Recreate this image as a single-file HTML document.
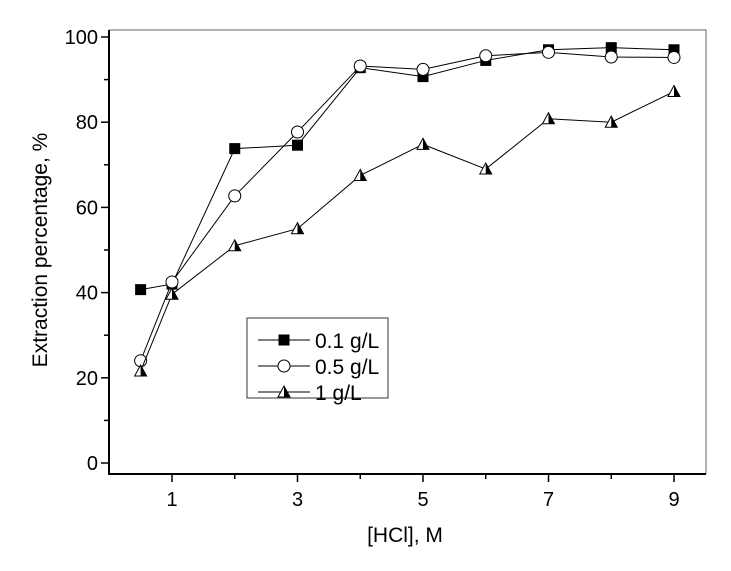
<!DOCTYPE html>
<html><head><meta charset="utf-8"><style>
body{margin:0;background:#fff;width:731px;height:566px;overflow:hidden}
text{font-family:"Liberation Sans",Arial,sans-serif}
</style></head><body>
<svg id="chart" width="731" height="566" xmlns="http://www.w3.org/2000/svg"></svg>
<script>
const xValues=[0.5,1,2,3,4,5,6,7,8,9];
const series01=[40.7,42,73.8,74.6,92.8,90.7,94.5,97,97.5,97];
const series05=[24,42.5,62.7,77.7,93.2,92.4,95.6,96.4,95.3,95.2];
const series1=[21.6,39.6,51,55,67.5,74.8,69,80.8,80,87.2];
const seriesNames=["0.1 g/L","0.5 g/L","1 g/L"];
const xTicks=[1,3,5,7,9];
const xMinor=[2,4,6,8];
const yTicks=[0,20,40,60,80,100];
const yMinor=[10,30,50,70,90];
const svg=document.getElementById('chart');
const NS='http://www.w3.org/2000/svg';
const L=109,R=706,T=30,B=474;
const X=v=>109.25+v*62.75;
const Y=v=>463-v*4.26;
function mk(tag,attrs,parent){const e=document.createElementNS(NS,tag);for(const k in attrs)e.setAttribute(k,attrs[k]);(parent||svg).appendChild(e);return e;}
let f=mk('path',{d:`M${L},${T}H${R}V${B}`,fill:'none',stroke:'#999','stroke-width':1.5});


let ax=mk('path',{d:`M${L},${T}V${B}H${R}`,fill:'none',stroke:'#000','stroke-width':2});


xTicks.forEach(v=>{mk('line',{x1:X(v),x2:X(v),y1:B,y2:B+8,stroke:'#000','stroke-width':1.5});
 const t=mk('text',{x:X(v),y:B+32,'text-anchor':'middle','font-size':20});t.textContent=v;
 
 });
xMinor.forEach(v=>mk('line',{x1:X(v),x2:X(v),y1:B,y2:B+5,stroke:'#000','stroke-width':1.5}));
yTicks.forEach(v=>{mk('line',{x1:L,x2:L-8,y1:Y(v),y2:Y(v),stroke:'#000','stroke-width':1.5});
 const t=mk('text',{x:L-11,y:Y(v)+7,'text-anchor':'end','font-size':20});t.textContent=v;
 
 });
yMinor.forEach(v=>mk('line',{x1:L,x2:L-5,y1:Y(v),y2:Y(v),stroke:'#000','stroke-width':1.5}));
let xt=mk('text',{x:405,y:542,'text-anchor':'middle','font-size':21});xt.textContent='[HCl], M';


let yt=mk('text',{x:0,y:0,'text-anchor':'middle','font-size':21,transform:'translate(47,250) rotate(-90)'});yt.textContent='Extraction percentage, %';


function marker(type,cx,cy,g){
 if(type==0)return mk('rect',{x:cx-5.5,y:cy-5.5,width:11,height:11,fill:'#000'},g);
 if(type==1)return mk('circle',{cx:cx,cy:cy,r:6,fill:'#fff',stroke:'#000','stroke-width':1},g);
 const gg=mk('g',{},g);
 mk('path',{d:`M${cx-6},${cy+5}L${cx},${cy-6}L${cx+6},${cy+5}Z`,fill:'#fff',stroke:'#000','stroke-width':1},gg);
 mk('path',{d:`M${cx},${cy-6}L${cx+6},${cy+5}L${cx},${cy+5}Z`,fill:'#000'},gg);
 return gg;
}
[series01,series05,series1].forEach((s,i)=>{
 const g=mk('g',{});
 
 
 mk('polyline',{points:s.map((v,j)=>X(xValues[j])+','+Y(v)).join(' '),fill:'none',stroke:'#000','stroke-width':1},g);
 s.forEach((v,j)=>{const m=marker(i,X(xValues[j]),Y(v),g);
  
  });
});
const lg=mk('g',{});


mk('rect',{x:247,y:318,width:141,height:80,fill:'#fff',stroke:'#555','stroke-width':1.2},lg);
seriesNames.forEach((n,i)=>{
 const cy=340+i*26;
 const e=mk('g',{},lg);
 
 
 mk('line',{x1:258,x2:310,y1:cy,y2:cy,stroke:'#000','stroke-width':1},e);
 marker(i,284,cy,e);
 const t=mk('text',{x:315,y:cy+8,'font-size':21},e);t.textContent=n;
});
</script>
</body></html>
